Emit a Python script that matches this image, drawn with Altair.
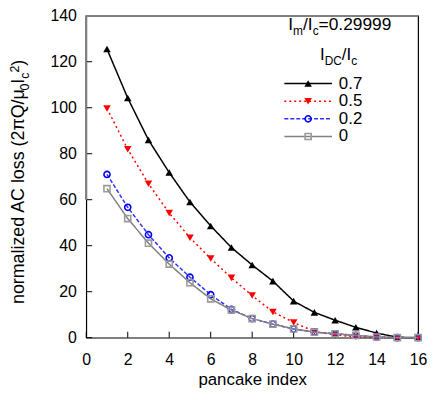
import altair as alt
import pandas as pd

# ---------------- data ----------------
pancake = list(range(1, 17))
series_labels = ["0.7", "0.5", "0.2", "0"]
loss_07 = [125.5, 104.2, 86.0, 71.8, 59.0, 48.6, 39.2, 31.6, 24.6, 15.9, 11.0, 7.6, 4.5, 2.0, 0.2, 0.0]
loss_05 = [99.7, 81.9, 66.9, 54.2, 43.5, 34.4, 26.0, 18.3, 11.2, 6.6, 2.7, 1.2, 0.4, 0.1, 0.0, 0.0]
loss_02 = [71.0, 56.7, 44.8, 34.7, 26.3, 18.7, 12.3, 8.3, 5.9, 3.8, 2.4, 1.7, 1.0, 0.3, 0.0, 0.0]
loss_00 = [64.8, 51.8, 41.1, 32.0, 23.9, 16.9, 12.0, 8.3, 5.9, 3.8, 2.4, 1.7, 1.0, 0.3, 0.0, 0.0]
series_values = [loss_07, loss_05, loss_02, loss_00]
x_ticks = [0, 2, 4, 6, 8, 10, 12, 14, 16]
y_ticks = [0, 20, 40, 60, 80, 100, 120, 140]

# ---------------- styles ----------------
FONT = "Liberation Sans"
W, H = 335, 325
line_colors = ["#000000", "#ff0000", "#3030ff", "#808080"]
point_colors = ["#000000", "#ff0000", "#0000ff", "#9a9a9a"]
dashes = [[1, 0], [2, 3], [4, 2], [1, 0]]
shapes = ["triangle-up", "triangle-down", "circle", "square"]
filled = [True, True, False, False]
sizes = [58, 58, 38, 38]

xscale = alt.Scale(domain=[0, 16], nice=False, zero=False)
yscale = alt.Scale(domain=[0, 140], nice=False)
xaxis = alt.Axis(values=x_ticks, title="pancake index", labelFont=FONT, labelFontSize=16,
                 labelColor="black", labelPadding=22.5, labelBaseline="middle",
                 labelFlush=False, labelOverlap=False, ticks=False, tickSize=0,
                 domain=False, grid=False, titleFont=FONT, titleFontSize=17,
                 titleFontWeight="normal", titleColor="black", titleY=47,
                 titleBaseline="alphabetic")
yaxis = alt.Axis(values=y_ticks, title=None, labelFont=FONT, labelFontSize=16,
                 labelColor="black", labelPadding=10, labelFlush=False,
                 labelOverlap=False, ticks=False, tickSize=0, domain=False, grid=False)

layers = []

# inward tick marks
xt = pd.DataFrame({"pancake": x_ticks})
layers.append(alt.Chart(xt).mark_rule(color="black", strokeWidth=1).encode(
    x=alt.X("pancake:Q", scale=xscale, axis=xaxis),
    y=alt.value(H), y2=alt.value(H - 6)))
yt = pd.DataFrame({"loss": y_ticks})
layers.append(alt.Chart(yt).mark_rule(color="black", strokeWidth=1).encode(
    y=alt.Y("loss:Q", scale=yscale, axis=yaxis),
    x=alt.value(0), x2=alt.value(6)))

# gray border pieces (top and upper left)
layers.append(alt.Chart(xt).mark_rule(color="#808080", strokeWidth=1.6).encode(
    x=alt.value(0), x2=alt.value(W), y=alt.value(0)))
layers.append(alt.Chart(xt).mark_rule(color="#808080", strokeWidth=1.2).encode(
    x=alt.value(0), y=alt.value(0), y2=alt.value(H * (1 - 60 / 140))))

# data series
for i, lab in enumerate(series_labels):
    df = pd.DataFrame({"pancake": pancake, "loss": series_values[i], "series": lab})
    enc = dict(x=alt.X("pancake:Q", scale=xscale, axis=xaxis),
               y=alt.Y("loss:Q", scale=yscale, axis=yaxis))
    layers.append(alt.Chart(df).mark_line(color=line_colors[i], strokeWidth=1.5,
                                          strokeDash=dashes[i]).encode(**enc))
    if filled[i]:
        pm = alt.Chart(df).mark_point(shape=shapes[i], filled=True, fill=point_colors[i],
                                      size=sizes[i], opacity=1, strokeWidth=0)
    else:
        pm = alt.Chart(df).mark_point(shape=shapes[i], filled=False, stroke=point_colors[i],
                                      size=sizes[i], opacity=1, strokeWidth=1.6)
    layers.append(pm.encode(**enc))

# ---------------- rich text helper ----------------
ARIAL = {
    " ": 278, "(": 333, ")": 333, "/": 278, "=": 584, ".": 278,
    "A": 667, "C": 722, "D": 722, "I": 278, "Q": 778,
    "a": 556, "c": 500, "d": 556, "e": 556, "i": 222, "l": 222, "m": 833,
    "n": 556, "o": 556, "r": 333, "s": 500, "z": 500,
    "π": 556, "μ": 577,
}


def tw(s, fs):
    return sum(ARIAL.get(ch, 556) for ch in s) / 1000.0 * fs


one = pd.DataFrame({"a": [0]})


def rich(pieces, x, y, size, sub, angle=0, anchor="start", sup_raise=0.42):
    out = []
    total = sum(tw(t, size if k == "n" else sub) for t, k in pieces)
    off = 0.0 if anchor == "start" else -total / 2.0
    for t, k in pieces:
        fs = size if k == "n" else sub
        dy = 0.0 if k == "n" else (0.3 * size if k == "sub" else -sup_raise * size)
        out.append(alt.Chart(one).mark_text(
            text=t, font=FONT, fontSize=fs, align="left", baseline="alphabetic",
            angle=angle, dx=off, dy=dy, color="black").encode(
            x=alt.value(x), y=alt.value(y)))
        off += tw(t, fs)
    return out


# y-axis title (rotated, reading bottom to top)
layers += rich([("normalized AC loss (2πQ/μ", "n"), ("0", "sub"), ("I", "n"),
                ("c", "sub"), ("2", "sup"), (")", "n")],
               x=-63, y=291, size=18, sub=12.5, angle=270, anchor="start", sup_raise=0.3)

# header texts
layers += rich([("I", "n"), ("m", "sub"), ("/I", "n"), ("c", "sub"), ("=0.29999", "n")],
               x=256, y=14, size=17.5, sub=12, anchor="middle")
layers += rich([("I", "n"), ("DC", "sub"), ("/I", "n"), ("c", "sub")],
               x=236, y=45, size=17, sub=12)

# legend
for i, lab in enumerate(series_labels):
    ly = 68.5 + 17.8 * i
    layers.append(alt.Chart(one).mark_rule(color=line_colors[i], strokeWidth=1.5,
                                           strokeDash=dashes[i]).encode(
        x=alt.value(200), x2=alt.value(248), y=alt.value(ly)))
    if filled[i]:
        pm = alt.Chart(one).mark_point(shape=shapes[i], filled=True, fill=point_colors[i],
                                       size=sizes[i], opacity=1, strokeWidth=0)
    else:
        pm = alt.Chart(one).mark_point(shape=shapes[i], filled=False, stroke=point_colors[i],
                                       size=sizes[i], opacity=1, strokeWidth=1.6)
    layers.append(pm.encode(x=alt.value(224), y=alt.value(ly)))
    layers.append(alt.Chart(one).mark_text(text=lab, font=FONT, fontSize=17, align="left",
                                           baseline="middle", color="black").encode(
        x=alt.value(255), y=alt.value(ly)))

chart = alt.layer(*layers).properties(
    width=W, height=H,
    autosize=alt.AutoSizeParams(type="none"),
    padding={"left": 79, "top": 6, "right": 10, "bottom": 51},
    background="white",
).configure_view(stroke="black", strokeWidth=1.2)

chart.save("out.html", embed_options={"renderer": "svg", "actions": False})
